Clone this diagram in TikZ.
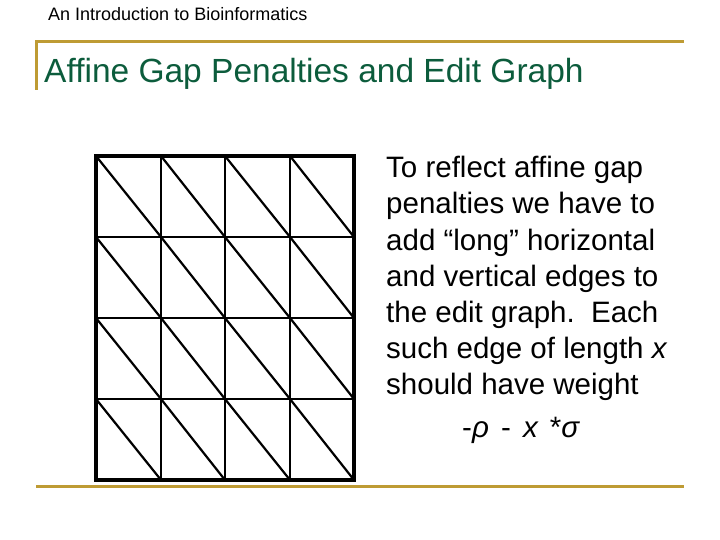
\documentclass[tikz,border=0pt]{standalone}
\usepackage{fontspec}
\setmainfont{Liberation Sans}
\definecolor{gold}{RGB}{190,155,52}
\definecolor{titlegreen}{RGB}{12,92,60}
\begin{document}
\begin{tikzpicture}[x=1pt,y=-1pt,
  goldline/.style={draw=gold,line width=3pt},
  gridline/.style={line width=2.2pt},
  bodytext/.style={anchor=base west,inner sep=0pt,font=\fontsize{29.5}{34}\selectfont}]
\useasboundingbox (0,0) rectangle (720,540);
% header
\node[anchor=base west,inner sep=0pt,font=\fontsize{18}{21}\selectfont] (hdr) at (48,21) {An Introduction to Bioinformatics};
% gold rules
\coordinate (tl) at (36,42);
\coordinate (tr) at (684,42);
\coordinate (vl) at (36,90);
\coordinate (bl) at (36,486);
\coordinate (br) at (684,486);
\draw[goldline] (vl) -- (tl) -- (tr);
\draw[goldline] (bl) -- (br);
% title
\node[anchor=base west,inner sep=0pt,text=titlegreen,font=\fontsize{33.5}{38}\selectfont] (title) at (44,83) {Affine Gap Penalties and Edit Graph};
% grid
\foreach \i/\x in {0/96,1/161,2/225,3/290,4/354}{
  \foreach \j/\y in {0/156,1/237,2/318,3/399,4/480}{
    \coordinate (g\i\j) at (\x,\y);
  }
}
\foreach \i in {1,2,3}{
  \draw[gridline] (g\i0) -- (g\i4);
  \draw[gridline] (g0\i) -- (g4\i);
}
\foreach \i/\ni in {0/1,1/2,2/3,3/4}{
  \foreach \j/\nj in {0/1,1/2,2/3,3/4}{
    \draw[gridline] (g\i\j) -- (g\ni\nj);
  }
}
\draw[line width=3.2pt] (g00) rectangle (g44);
% text
\node[bodytext] (l1) at (386,178) {To reflect affine gap};
\node[bodytext] (l2) at (386,214) {penalties we have to};
\node[bodytext] (l3) at (386,250) {add “long” horizontal};
\node[bodytext] (l4) at (386,286) {and vertical edges to};
\node[bodytext] (l5) at (386,322) {the edit graph.\ \ Each};
\node[bodytext] (l6) at (386,358) {such edge of length \textit{x}};
\node[bodytext] (l7) at (386,394) {should have weight};
\node[bodytext] (f) at (462,437) {-\textit{ρ}\hspace{4pt} -\hspace{4pt} \textit{x}\hspace{3pt} *\textit{σ}};
\end{tikzpicture}
\end{document}
